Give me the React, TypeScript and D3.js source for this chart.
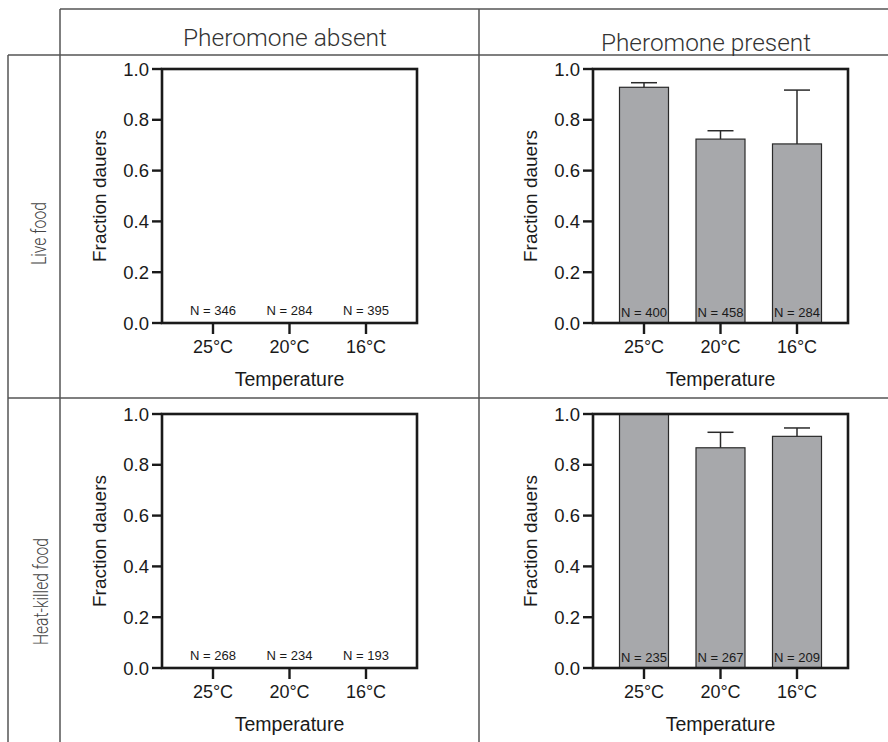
import React from "react";
import * as d3 from "d3";

const temps = ["25°C", "20°C", "16°C"];
const yTicks = [0, 0.2, 0.4, 0.6, 0.8, 1.0];
const colHeaders = ["Pheromone absent", "Pheromone present"];
const rowHeaders = ["Live food", "Heat-killed food"];

const liveAbsentVals = [0, 0, 0];
const liveAbsentErr = [0, 0, 0];
const liveAbsentN = [346, 284, 395];

const livePresentVals = [0.928, 0.724, 0.705];
const livePresentErr = [0.018, 0.033, 0.212];
const livePresentN = [400, 458, 284];

const heatAbsentVals = [0, 0, 0];
const heatAbsentErr = [0, 0, 0];
const heatAbsentN = [268, 234, 193];

const heatPresentVals = [1.0, 0.867, 0.912];
const heatPresentErr = [0, 0.061, 0.033];
const heatPresentN = [235, 267, 209];

const FONT = "'Liberation Sans', Arial, Helvetica, sans-serif";
const LIGHT = "Roboto, 'Liberation Sans', Arial, sans-serif";
const W = 888;
const H = 742;
const colX = [162, 593];
const rowY = [69, 414];
const plotW = 255;
const plotH = 254;
const gridColor = "#555";

const panels = [
  { row: 0, col: 0, vals: liveAbsentVals, err: liveAbsentErr, n: liveAbsentN },
  { row: 0, col: 1, vals: livePresentVals, err: livePresentErr, n: livePresentN },
  { row: 1, col: 0, vals: heatAbsentVals, err: heatAbsentErr, n: heatAbsentN },
  { row: 1, col: 1, vals: heatPresentVals, err: heatPresentErr, n: heatPresentN },
];

function Panel({ row, col, vals, err, n }: any) {
  const x0 = colX[col];
  const y0 = rowY[row];
  const x = d3.scalePoint<string>().domain(temps).range([x0, x0 + plotW]).padding(2 / 3);
  const y = d3.scaleLinear().domain([0, 1]).range([y0 + plotH, y0]);
  const fmt = d3.format(".1f");
  const barW = 49;
  const capW = 26;
  const inside = col === 1;
  return (
    <g>
      {vals.map((v: number, i: number) => {
        const cx = x(temps[i]) as number;
        if (v <= 0) return null;
        return (
          <g key={"b" + i}>
            <rect x={cx - barW / 2} y={y(v)} width={barW} height={y(0) - y(v)} fill="#a7a8ab" stroke="#2a2a2a" strokeWidth={1.2} />
            {err[i] > 0 && (
              <g stroke="#2a2a2a" strokeWidth={1.5}>
                <line x1={cx} x2={cx} y1={y(v)} y2={y(v + err[i])} />
                <line x1={cx - capW / 2} x2={cx + capW / 2} y1={y(v + err[i])} y2={y(v + err[i])} />
              </g>
            )}
          </g>
        );
      })}
      {n.map((nv: number, i: number) => (
        <text key={"n" + i} x={x(temps[i]) as number} y={y(0) - (inside ? 6.5 : 8.5)} textAnchor="middle" fontSize={13.5} fontFamily={FONT} fill="#1a1a1a" textLength={46} lengthAdjust="spacingAndGlyphs">
          {"N = " + nv}
        </text>
      ))}
      <rect x={x0} y={y0} width={plotW} height={plotH} fill="none" stroke="#1a1a1a" strokeWidth={2.6} />
      {yTicks.map((t) => (
        <g key={"yt" + t}>
          <line x1={x0 - 10} x2={x0} y1={y(t)} y2={y(t)} stroke="#1a1a1a" strokeWidth={2.4} />
          <text x={x0 - 13} y={y(t)} dy="0.36em" textAnchor="end" fontSize={18.5} fontFamily={FONT} fill="#1a1a1a">
            {fmt(t)}
          </text>
        </g>
      ))}
      {temps.map((t) => (
        <g key={"xt" + t}>
          <line x1={x(t) as number} x2={x(t) as number} y1={y0 + plotH} y2={y0 + plotH + 11} stroke="#1a1a1a" strokeWidth={2.4} />
          <text x={x(t) as number} y={y0 + plotH + 29.5} textAnchor="middle" fontSize={18} fontFamily={FONT} fill="#1a1a1a">
            {t}
          </text>
        </g>
      ))}
      <text x={x0 + plotW / 2} y={y0 + plotH + 63} textAnchor="middle" fontSize={19.5} fontFamily={FONT} fill="#1a1a1a">
        Temperature
      </text>
      <text transform={`translate(${x0 - 56},${y0 + plotH / 2}) rotate(-90)`} textAnchor="middle" fontSize={19} fontFamily={FONT} fill="#1a1a1a">
        Fraction dauers
      </text>
    </g>
  );
}

export default function App() {
  return (
    <div style={{ position: "absolute", left: 0, top: 0, width: W, height: H, background: "#fff" }}>
      <svg width={W} height={H} viewBox={`0 0 ${W} ${H}`} style={{ display: "block" }}>
        <rect x={0} y={0} width={W} height={H} fill="#fff" />
        <g stroke={gridColor} strokeWidth={1.5} fill="none">
          <line x1={60} x2={W} y1={9} y2={9} />
          <line x1={8} x2={W} y1={55} y2={55} />
          <line x1={8} x2={W} y1={398} y2={398} />
          <line x1={8} x2={8} y1={55} y2={H} />
          <line x1={60} x2={60} y1={9} y2={H} />
          <line x1={479} x2={479} y1={9} y2={H} />
        </g>
        <text x={285} y={45.5} textAnchor="middle" fontSize={24.5} fontWeight={300} fontFamily={LIGHT} fill="#333" textLength={204} lengthAdjust="spacingAndGlyphs">
          {colHeaders[0]}
        </text>
        <text x={706} y={51} textAnchor="middle" fontSize={24.5} fontWeight={300} fontFamily={LIGHT} fill="#333" textLength={210} lengthAdjust="spacingAndGlyphs">
          {colHeaders[1]}
        </text>
        <text transform="translate(46,233.5) rotate(-90)" textAnchor="middle" fontSize={21} fontWeight={300} fontFamily={LIGHT} fill="#444" textLength={63} lengthAdjust="spacingAndGlyphs">
          {rowHeaders[0]}
        </text>
        <text transform="translate(48,591.5) rotate(-90)" textAnchor="middle" fontSize={21} fontWeight={300} fontFamily={LIGHT} fill="#444" textLength={107} lengthAdjust="spacingAndGlyphs">
          {rowHeaders[1]}
        </text>
        {panels.map((p, i) => (
          <Panel key={i} {...p} />
        ))}
      </svg>
    </div>
  );
}
